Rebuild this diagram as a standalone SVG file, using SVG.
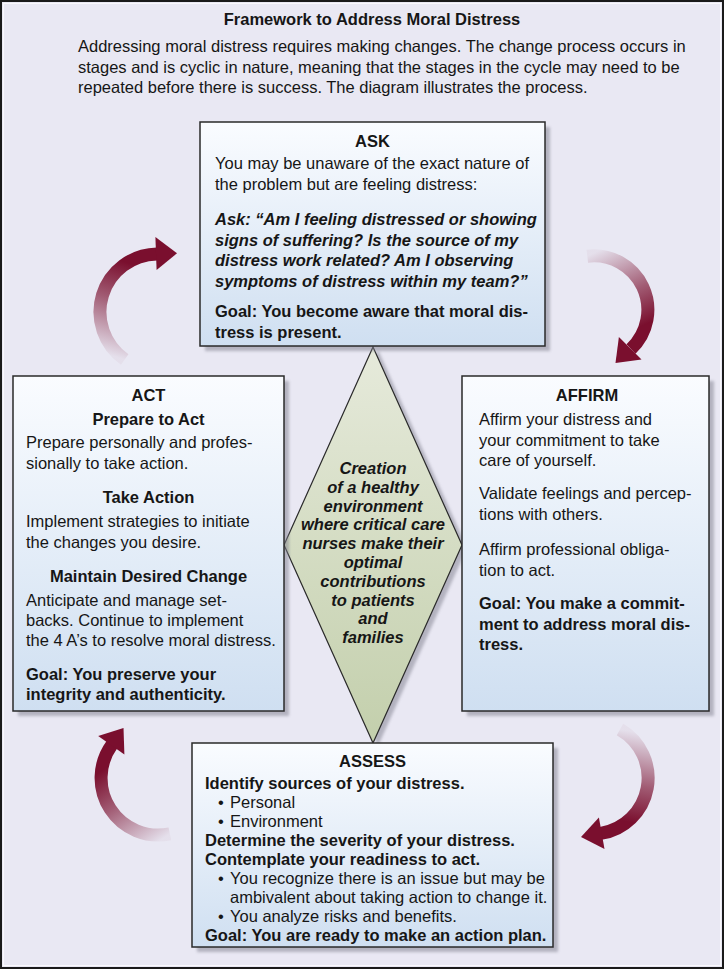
<svg xmlns="http://www.w3.org/2000/svg" width="724" height="969" viewBox="0 0 724 969">
<defs>
<style>
text{font-family:"Liberation Sans",Arial,Helvetica,sans-serif;font-size:16.5px;fill:#161616}
.b{font-weight:bold}
.bi{font-weight:bold;font-style:italic}
.c{text-anchor:middle}
.box{fill:url(#boxg);stroke:#2a2a2a;stroke-width:1.5}
.shd{fill:#7e7e8c;opacity:0.5;filter:url(#blur)}
.arc{fill:none;stroke-width:13}
.head{fill:#7a0f2e}
</style>
<linearGradient id="boxg" x1="0" y1="0" x2="0" y2="1"><stop offset="0" stop-color="#fafcff"/><stop offset="1" stop-color="#cfdff1"/></linearGradient>
<linearGradient id="diag" x1="0" y1="0" x2="0" y2="1"><stop offset="0" stop-color="#e6eadb"/><stop offset="1" stop-color="#c3cfac"/></linearGradient>
<filter id="blur" x="-10%" y="-10%" width="120%" height="120%"><feGaussianBlur stdDeviation="1.5"/></filter>
<linearGradient id="ga1" gradientUnits="userSpaceOnUse" x1="124.7" y1="359.5" x2="156" y2="254"><stop offset="0" stop-color="#7a0f2e" stop-opacity="0.04"/><stop offset="0.5" stop-color="#7a0f2e" stop-opacity="0.65"/><stop offset="0.85" stop-color="#7a0f2e" stop-opacity="1"/></linearGradient>
<linearGradient id="ga2" gradientUnits="userSpaceOnUse" x1="587.3" y1="256.2" x2="630.2" y2="348.2"><stop offset="0" stop-color="#7a0f2e" stop-opacity="0.04"/><stop offset="0.5" stop-color="#7a0f2e" stop-opacity="0.65"/><stop offset="0.85" stop-color="#7a0f2e" stop-opacity="1"/></linearGradient>
<linearGradient id="ga3" gradientUnits="userSpaceOnUse" x1="620" y1="729.5" x2="601.7" y2="833.2"><stop offset="0" stop-color="#7a0f2e" stop-opacity="0.04"/><stop offset="0.5" stop-color="#7a0f2e" stop-opacity="0.65"/><stop offset="0.85" stop-color="#7a0f2e" stop-opacity="1"/></linearGradient>
<linearGradient id="ga4" gradientUnits="userSpaceOnUse" x1="169.9" y1="833.8" x2="111.3" y2="745.3"><stop offset="0" stop-color="#7a0f2e" stop-opacity="0.04"/><stop offset="0.5" stop-color="#7a0f2e" stop-opacity="0.65"/><stop offset="0.85" stop-color="#7a0f2e" stop-opacity="1"/></linearGradient>
</defs>

<rect x="0" y="0" width="724" height="969" fill="#e9e8f3"/>
<rect x="3.5" y="3.5" width="717" height="962" fill="none" stroke="#ffffff" stroke-opacity="0.7" stroke-width="1"/>
<rect x="1" y="1" width="722" height="967" fill="none" stroke="#1a1a1a" stroke-width="2"/>

<g id="header">
<text class="b c" x="372" y="25">Framework to Address Moral Distress</text>
<text x="78" y="52">Addressing moral distress requires making changes. The change process occurs in</text>
<text x="78" y="72.5">stages and is cyclic in nature, meaning that the stages in the cycle may need to be</text>
<text x="78" y="93">repeated before there is success. The diagram illustrates the process.</text>
</g>

<g id="center">
<polygon class="shd" points="378,350 467,548 378,746 289,548"/>
<polygon points="373,347 462,545 373,743 284,545" fill="url(#diag)" stroke="#2a2a2a" stroke-width="1.2"/>
<text class="bi c" x="373" y="474">Creation</text>
<text class="bi c" x="373" y="492.8">of a healthy</text>
<text class="bi c" x="373" y="511.6">environment</text>
<text class="bi c" x="373" y="530.4">where critical care</text>
<text class="bi c" x="373" y="549.2">nurses make their</text>
<text class="bi c" x="373" y="568">optimal</text>
<text class="bi c" x="373" y="586.8">contributions</text>
<text class="bi c" x="373" y="605.6">to patients</text>
<text class="bi c" x="373" y="624.4">and</text>
<text class="bi c" x="373" y="643.2">families</text>
</g>

<g id="ask">
<rect class="shd" x="205" y="127" width="345" height="224"/>
<rect class="box" x="200" y="122" width="345" height="224"/>
<text class="b c" x="372.5" y="147">ASK</text>
<text x="215" y="169">You may be unaware of the exact nature of</text>
<text x="215" y="190">the problem but are feeling distress:</text>
<text class="bi" x="215" y="225">Ask: “Am I feeling distressed or showing</text>
<text class="bi" x="215" y="245.5">signs of suffering? Is the source of my</text>
<text class="bi" x="215" y="266">distress work related? Am I observing</text>
<text class="bi" x="215" y="286.5">symptoms of distress within my team?”</text>
<text class="b" x="215" y="317">Goal: You become aware that moral dis-</text>
<text class="b" x="215" y="338">tress is present.</text>
</g>

<g id="act">
<rect class="shd" x="18" y="381" width="271" height="335"/>
<rect class="box" x="13" y="376" width="271" height="335"/>
<text class="b c" x="148.5" y="401">ACT</text>
<text class="b c" x="148.5" y="425">Prepare to Act</text>
<text x="26" y="448">Prepare personally and profes-</text>
<text x="26" y="468.5">sionally to take action.</text>
<text class="b c" x="148.5" y="503">Take Action</text>
<text x="26" y="527">Implement strategies to initiate</text>
<text x="26" y="547.5">the changes you desire.</text>
<text class="b c" x="148.5" y="582">Maintain Desired Change</text>
<text x="26" y="606">Anticipate and manage set-</text>
<text x="26" y="626">backs. Continue to implement</text>
<text x="26" y="646">the 4 A’s to resolve moral distress.</text>
<text class="b" x="26" y="680">Goal: You preserve your</text>
<text class="b" x="26" y="700">integrity and authenticity.</text>
</g>

<g id="affirm">
<rect class="shd" x="467" y="381" width="247" height="335"/>
<rect class="box" x="462" y="376" width="247" height="335"/>
<text class="b c" x="587" y="401">AFFIRM</text>
<text x="479" y="425">Affirm your distress and</text>
<text x="479" y="445.5">your commitment to take</text>
<text x="479" y="466">care of yourself.</text>
<text x="479" y="499">Validate feelings and percep-</text>
<text x="479" y="519.5">tions with others.</text>
<text x="479" y="555">Affirm professional obliga-</text>
<text x="479" y="575.5">tion to act.</text>
<text class="b" x="479" y="609">Goal: You make a commit-</text>
<text class="b" x="479" y="629.5">ment to address moral dis-</text>
<text class="b" x="479" y="650">tress.</text>
</g>

<g id="assess">
<rect class="shd" x="197" y="748" width="361" height="204"/>
<rect class="box" x="192" y="743" width="361" height="204"/>
<text class="b c" x="372.5" y="767">ASSESS</text>
<text class="b" x="205" y="789">Identify sources of your distress.</text>
<text x="218" y="808">•</text><text x="230" y="808">Personal</text>
<text x="218" y="827">•</text><text x="230" y="827">Environment</text>
<text class="b" x="205" y="846">Determine the severity of your distress.</text>
<text class="b" x="205" y="865">Contemplate your readiness to act.</text>
<text x="218" y="884">•</text><text x="230" y="884">You recognize there is an issue but may be</text>
<text x="230" y="903">ambivalent about taking action to change it.</text>
<text x="218" y="922">•</text><text x="230" y="922">You analyze risks and benefits.</text>
<text class="b" x="205" y="941">Goal: You are ready to make an action plan.</text>
</g>

<g id="connectors">
<path class="arc" stroke="url(#ga1)" d="M124.7,359.5 A58,58 0 0 1 157,254"/>
<polygon class="head" points="155.4,237 177,253.3 156.6,270"/>
<path class="arc" stroke="url(#ga2)" d="M587.3,256.2 A54,54 0 0 1 631,349"/>
<polygon class="head" points="641.5,359.5 615.5,363 618.9,336.9"/>
<path class="arc" stroke="url(#ga3)" d="M620,729.5 A56,56 0 0 1 600.7,833.4"/>
<polygon class="head" points="604.5,849 581,837 598.9,817.4"/>
<path class="arc" stroke="url(#ga4)" d="M169.9,833.8 A57,57 0 0 1 112,744.5"/>
<polygon class="head" points="98.2,736.1 123.5,728 124.4,754.5"/>
</g>
</svg>
